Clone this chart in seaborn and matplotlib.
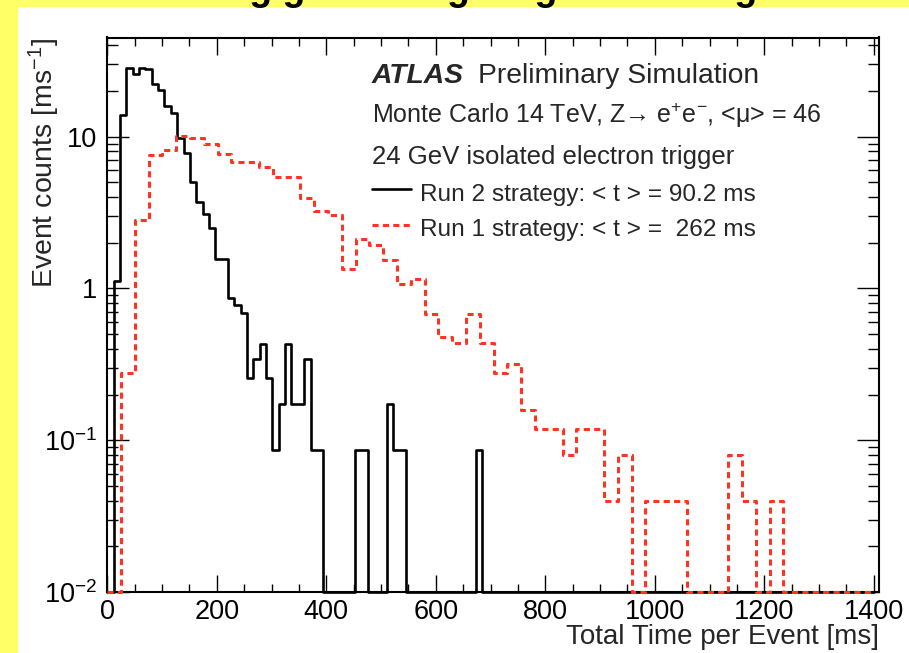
import numpy as np
import pandas as pd
import seaborn as sns
import matplotlib
matplotlib.use("Agg")
import matplotlib.pyplot as plt
from matplotlib.patches import Rectangle
from matplotlib.lines import Line2D
from matplotlib.ticker import FixedLocator, LogLocator, MultipleLocator, NullFormatter

# ---- histogram contents: events per bin, starting at t = 0 ----
run2_bin_width = 11.6   # ms
run2_counts = [0, 13, 161, 331, 300, 331, 324, 256, 235, 186, 166, 113, 90, 58,
               43, 36, 29, 18, 18, 10, 9, 8, 3, 4, 5, 3, 1, 2, 5, 2, 2, 4, 1, 1,
               0, 0, 0, 0, 0, 1, 1, 0, 0, 0, 2, 1, 1,
               0, 0, 0, 0, 0, 0, 0, 0, 0, 0, 0, 1]

run1_bin_width = 25.2   # ms
run1_counts = [0, 7, 71, 191, 207, 255, 247, 225, 194, 172, 172, 158, 137, 137,
               99, 82, 77, 34, 53, 49, 39, 27, 29, 17, 12, 11, 17, 11, 7, 8, 4,
               3, 3, 2, 3, 3, 1, 2, 0, 1, 1, 1, 0, 0, 0, 2, 1, 0, 1]

x_ticks = [0, 200, 400, 600, 800, 1000, 1200, 1400]
y_ticks = [0.01, 0.1, 1, 10]
y_tick_labels = [r"$\mathregular{10^{-2}}$", r"$\mathregular{10^{-1}}$", "1", "10"]

X_MAX = 1400
Y_MIN, Y_MAX = 0.01, 45

W, H = 909, 653
RED = "#ff3322"
YELLOW = "#ffff66"
DASH = (0, (2.0, 1.4))

sns.set_theme(style="ticks")
plt.rcParams["font.family"] = ["Liberation Sans", "DejaVu Sans"]
plt.rcParams["mathtext.fontset"] = "custom"
plt.rcParams["mathtext.rm"] = "Liberation Sans"
plt.rcParams["mathtext.it"] = "Liberation Sans:italic"
plt.rcParams["mathtext.bf"] = "Liberation Sans:bold"


def step_frame(counts, width):
    n_bins = int(np.ceil(X_MAX / width))
    c = np.zeros(n_bins)
    c[:len(counts)] = counts
    edges = np.minimum(np.arange(n_bins + 1) * width, X_MAX)
    rate = c / width
    rate = np.maximum(rate, Y_MIN)          # empty bins rest on the frame floor
    return pd.DataFrame({"t": edges, "rate": np.append(rate, rate[-1])})


def fx(px):
    return px / W


def fy(py):
    return 1 - py / H


fig = plt.figure(figsize=(W / 100, H / 100), dpi=100)
fig.patch.set_facecolor("white")
fig.patches.append(Rectangle((0, 0), fx(17), 1, transform=fig.transFigure,
                             color=YELLOW, zorder=-10))
fig.patches.append(Rectangle((0, fy(6)), 1, 1, transform=fig.transFigure,
                             color=YELLOW, zorder=-10))

ax = fig.add_axes([fx(107.3), fy(592), fx(879.3 - 107.3), (592 - 37.5) / H])
ax.set_facecolor("white")

run2 = step_frame(run2_counts, run2_bin_width)
run1 = step_frame(run1_counts, run1_bin_width)

sns.lineplot(data=run2, x="t", y="rate", ax=ax, estimator=None, sort=False,
             drawstyle="steps-post", color="black", lw=1.9, clip_on=False,
             zorder=3)
sns.lineplot(data=run1, x="t", y="rate", ax=ax, estimator=None, sort=False,
             drawstyle="steps-post", color=RED, lw=2.2, clip_on=False,
             linestyle=DASH, zorder=4)

ax.set_yscale("log")
ax.set_xlim(0, 1410)
ax.set_ylim(Y_MIN, Y_MAX)

ax.xaxis.set_major_locator(FixedLocator(x_ticks))
ax.xaxis.set_minor_locator(MultipleLocator(50))
ax.set_xticklabels([str(v) for v in x_ticks])
ax.yaxis.set_major_locator(FixedLocator(y_ticks))
ax.set_yticklabels(y_tick_labels)
ax.yaxis.set_minor_locator(LogLocator(base=10, subs=np.arange(2, 10)))
ax.yaxis.set_minor_formatter(NullFormatter())

ax.tick_params(axis="both", which="both", direction="in", top=True, right=True,
               colors="black", width=1.0)
ax.tick_params(axis="x", which="major", length=12, labelsize=19.5, pad=5)
ax.tick_params(axis="x", which="minor", length=6)
ax.tick_params(axis="y", which="major", length=16, labelsize=19.5, pad=7)
ax.tick_params(axis="y", which="minor", length=8)
for s in ax.spines.values():
    s.set_linewidth(1.5)
    s.set_color("black")

ax.set_xlabel("Total Time per Event [ms]", fontsize=20, loc="right")
ax.xaxis.set_label_coords(1.0, -(624 - 592) / (592 - 37.5))
ax.xaxis.label.set_va("top")
ax.set_ylabel(r"Event counts [ms$^{\mathregular{-1}}$]", fontsize=20.5, loc="top")
ax.yaxis.set_label_coords(-(107.3 - 62) / 772, 1.0)

# ---- annotation block ----
fig.text(fx(372), fy(83.3), "ATLAS", fontsize=20.3, fontweight="bold",
         fontstyle="italic", va="baseline")
fig.text(fx(477.5), fy(83.3), "Preliminary Simulation", fontsize=20.3,
         va="baseline")
fig.text(fx(372), fy(123),
         r"Monte Carlo 14 TeV, Z→ e$^{\mathregular{+}}$e$^{\mathregular{-}}$, <μ> = 46",
         fontsize=18, va="baseline")
fig.text(fx(372), fy(164), "24 GeV isolated electron trigger", fontsize=18.5,
         va="baseline")
fig.text(fx(420.5), fy(201), "Run 2 strategy: < t > = 90.2 ms", fontsize=17.6,
         va="baseline")
fig.text(fx(420.5), fy(236), "Run 1 strategy: < t > =  262 ms", fontsize=17.6,
         va="baseline")
fig.add_artist(Line2D([fx(372), fx(411)], [fy(189), fy(189)], color="black",
                      lw=1.9, transform=fig.transFigure))
fig.add_artist(Line2D([fx(372), fx(411)], [fy(225), fy(225)], color=RED,
                      lw=2.2, linestyle=DASH, transform=fig.transFigure))

# slide heading running off the top edge
fig.text(fx(150), fy(0), "Timing gain using staged tracking", fontsize=27,
         fontweight="bold", va="baseline", color="black")

fig.savefig("out.png", dpi=100)
